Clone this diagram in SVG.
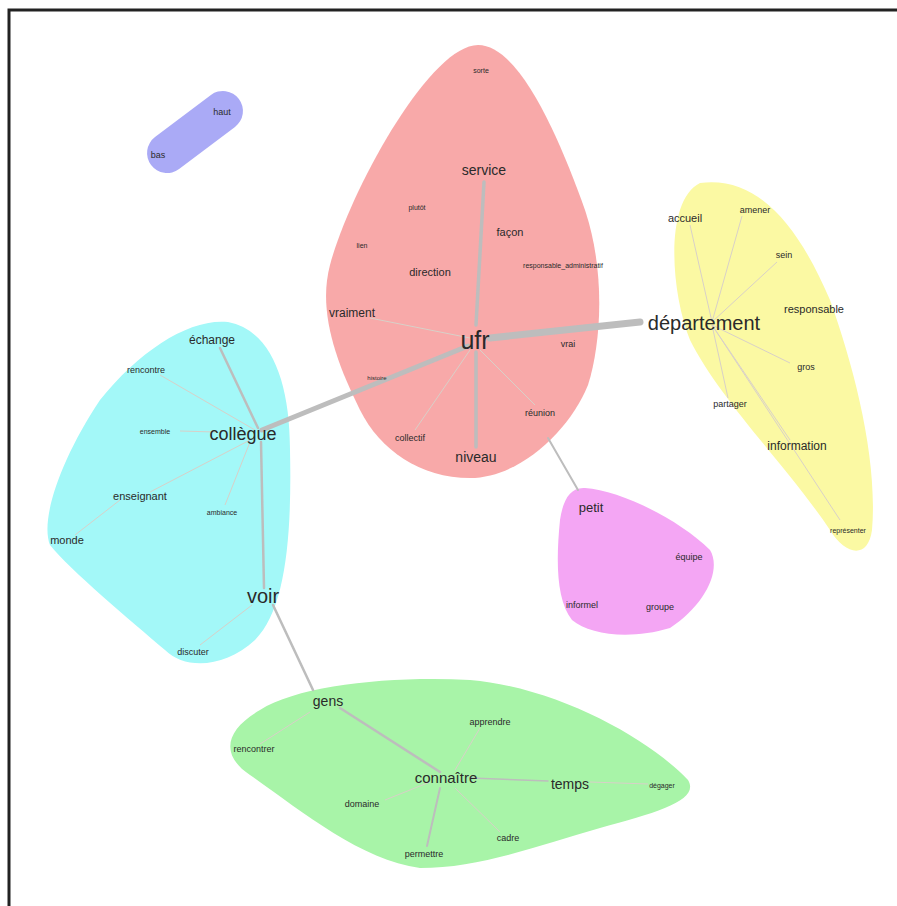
<svg xmlns="http://www.w3.org/2000/svg" width="897" height="906" viewBox="0 0 897 906">
<style>
text{font-family:"Liberation Sans",Arial,sans-serif;text-anchor:middle;fill:#2a2a2a}
.s{font-size:9px}
.xs{font-size:7px}
.m{font-size:11px}
.l{font-size:14px}
.xl{font-size:19px}
.e{stroke:#bdbdbd;fill:none;stroke-linecap:round}
.f{stroke:#d8d0c8;stroke-width:1;fill:none}
</style>
<rect x="0" y="0" width="897" height="906" fill="#fff"/>
<path d="M9 906 V10 H897" fill="none" stroke="#222" stroke-width="3"/>
<g id="hulls">
<path id="hull-red" d="M478 45 C520 45 560 140 585 210 C605 270 602 340 588 385 C570 430 520 478 470 478 C420 478 380 450 360 410 C335 360 318 310 330 265 C350 190 430 45 478 45 Z" fill="#f8a9a9"/>
<path id="hull-yellow" d="M700 183 C760 175 800 230 830 300 C855 370 878 460 872 530 C868 560 845 555 830 530 C790 470 720 400 690 340 C670 290 665 200 700 183 Z" fill="#fbf9a3"/>
<path id="hull-cyan" d="M228 322 C270 330 290 380 290 450 C292 540 285 610 255 640 C225 668 185 670 165 650 C130 620 70 570 50 545 C40 520 60 460 100 400 C140 350 190 318 228 322 Z" fill="#a3f8f8"/>
<path id="hull-green" d="M260 710 C300 685 390 676 470 680 C560 688 650 740 688 780 C700 800 660 812 600 828 C540 845 480 868 420 868 C360 860 300 810 250 775 C220 755 225 730 260 710 Z" fill="#a8f4a8"/>
<path id="hull-pink" d="M585 488 C620 490 680 520 710 550 C722 570 705 605 670 628 C630 640 590 635 572 620 C556 600 556 560 560 520 C563 500 570 487 585 488 Z" fill="#f4a6f4"/>
<rect id="hull-blue" x="140" y="112" width="110" height="40" rx="20" transform="rotate(-37 195 132)" fill="#aaaaf6"/>
</g>
<g id="edges">
<line class="e" x1="490" y1="338" x2="640" y2="322" stroke-width="7"/>
<line class="e" x1="468" y1="346" x2="262" y2="430" stroke-width="5"/>
<line class="e" x1="484" y1="182" x2="476" y2="325" stroke-width="3.5"/>
<line class="e" x1="476" y1="352" x2="476" y2="447" stroke-width="3.5"/>
<line class="f" x1="470" y1="338" x2="370" y2="318"/>
<line class="f" x1="480" y1="350" x2="535" y2="405"/>
<line class="f" x1="470" y1="350" x2="415" y2="430"/>
<line class="e" x1="548" y1="438" x2="578" y2="490" stroke-width="2"/>
<line class="f" x1="712" y1="322" x2="690" y2="225"/>
<line class="f" x1="712" y1="322" x2="742" y2="216"/>
<line class="f" x1="712" y1="322" x2="777" y2="262"/>
<line class="f" x1="712" y1="325" x2="790" y2="363"/>
<line class="f" x1="712" y1="325" x2="728" y2="398"/>
<line class="f" x1="712" y1="325" x2="840" y2="520"/>
<line class="f" x1="712" y1="325" x2="790" y2="440"/>
<line class="e" x1="220" y1="348" x2="258" y2="428" stroke-width="2.5"/>
<line class="f" x1="160" y1="375" x2="255" y2="430"/>
<line class="f" x1="180" y1="431" x2="215" y2="432"/>
<line class="f" x1="250" y1="440" x2="150" y2="492"/>
<line class="f" x1="120" y1="500" x2="75" y2="535"/>
<line class="f" x1="250" y1="442" x2="225" y2="505"/>
<line class="e" x1="261" y1="442" x2="264" y2="588" stroke-width="2.5"/>
<line class="f" x1="252" y1="605" x2="200" y2="645"/>
<line class="e" x1="273" y1="605" x2="313" y2="690" stroke-width="2.5"/>
<line class="e" x1="340" y1="708" x2="440" y2="772" stroke-width="2.5"/>
<line class="f" x1="310" y1="712" x2="260" y2="744"/>
<line class="f" x1="455" y1="770" x2="480" y2="728"/>
<line class="e" x1="470" y1="778" x2="548" y2="781" stroke-width="1.5"/>
<line class="f" x1="590" y1="782" x2="648" y2="784"/>
<line class="f" x1="430" y1="782" x2="385" y2="800"/>
<line class="e" x1="440" y1="788" x2="427" y2="846" stroke-width="2"/>
<line class="f" x1="455" y1="788" x2="500" y2="832"/>
</g>
<g id="n-sorte"><text class="xs" x="481" y="73">sorte</text></g>
<g id="n-service"><text class="l" x="484" y="175">service</text></g>
<g id="n-plutot"><text class="xs" x="417" y="210">plutôt</text></g>
<g id="n-facon"><text class="m" x="510" y="236">façon</text></g>
<g id="n-lien"><text class="xs" x="362" y="248">lien</text></g>
<g id="n-direction"><text class="m" x="430" y="276">direction</text></g>
<g id="n-responsable_administratif"><text class="xs" x="563" y="268">responsable_administratif</text></g>
<g id="n-vraiment"><text class="m" x="352" y="317" style="font-size:12px">vraiment</text></g>
<g id="n-ufr"><text x="475" y="349" style="font-size:25px">ufr</text></g>
<g id="n-vrai"><text class="s" x="568" y="347">vrai</text></g>
<g id="n-histoire"><text class="xs" x="377" y="380" style="font-size:6px">histoire</text></g>
<g id="n-reunion"><text class="s" x="540" y="416">réunion</text></g>
<g id="n-collectif"><text class="s" x="410" y="441">collectif</text></g>
<g id="n-niveau"><text class="l" x="476" y="462">niveau</text></g>
<g id="n-accueil"><text class="m" x="685" y="222">accueil</text></g>
<g id="n-amener"><text class="s" x="755" y="213">amener</text></g>
<g id="n-sein"><text class="s" x="784" y="258">sein</text></g>
<g id="n-responsable"><text class="m" x="814" y="313">responsable</text></g>
<g id="n-departement"><text x="704" y="330" style="font-size:20px">département</text></g>
<g id="n-gros"><text class="s" x="806" y="370">gros</text></g>
<g id="n-partager"><text class="s" x="730" y="407">partager</text></g>
<g id="n-information"><text class="m" x="797" y="450" style="font-size:12px">information</text></g>
<g id="n-representer"><text class="xs" x="848" y="533">représenter</text></g>
<g id="n-echange"><text class="m" x="212" y="344" style="font-size:12px">échange</text></g>
<g id="n-rencontre"><text class="s" x="146" y="373">rencontre</text></g>
<g id="n-ensemble"><text class="xs" x="155" y="434">ensemble</text></g>
<g id="n-collegue"><text x="243" y="440" style="font-size:18px">collègue</text></g>
<g id="n-enseignant"><text class="m" x="140" y="500">enseignant</text></g>
<g id="n-ambiance"><text class="xs" x="222" y="515">ambiance</text></g>
<g id="n-monde"><text class="m" x="67" y="544">monde</text></g>
<g id="n-voir"><text x="263" y="603" style="font-size:20px">voir</text></g>
<g id="n-discuter"><text class="s" x="193" y="655">discuter</text></g>
<g id="n-gens"><text class="l" x="328" y="706">gens</text></g>
<g id="n-apprendre"><text class="s" x="490" y="725">apprendre</text></g>
<g id="n-rencontrer"><text class="s" x="254" y="752">rencontrer</text></g>
<g id="n-connaitre"><text x="446" y="783" style="font-size:15px">connaître</text></g>
<g id="n-temps"><text class="l" x="570" y="789">temps</text></g>
<g id="n-degager"><text class="xs" x="662" y="788">dégager</text></g>
<g id="n-domaine"><text class="s" x="362" y="807">domaine</text></g>
<g id="n-cadre"><text class="s" x="508" y="841">cadre</text></g>
<g id="n-permettre"><text class="s" x="424" y="857">permettre</text></g>
<g id="n-petit"><text class="l" x="591" y="512" style="font-size:13px">petit</text></g>
<g id="n-equipe"><text class="s" x="689" y="560">équipe</text></g>
<g id="n-informel"><text class="s" x="582" y="608">informel</text></g>
<g id="n-groupe"><text class="s" x="660" y="610">groupe</text></g>
<g id="n-haut"><text class="s" x="222" y="115">haut</text></g>
<g id="n-bas"><text class="s" x="158" y="158">bas</text></g>
</svg>
